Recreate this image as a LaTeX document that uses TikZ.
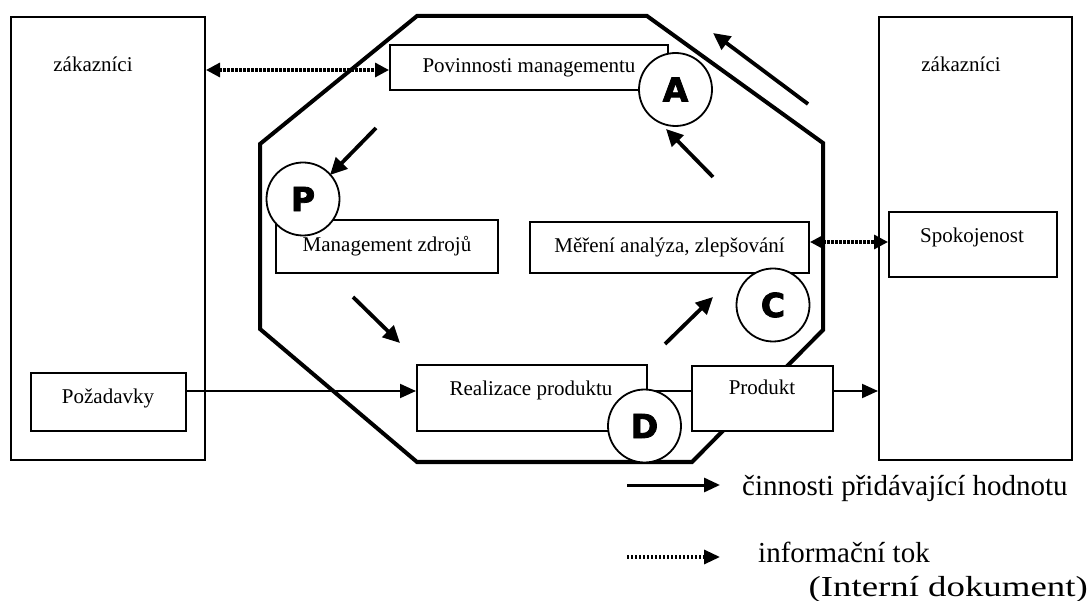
\documentclass[tikz,border=0pt]{standalone}
\usepackage{fontspec}
\setmainfont{Liberation Serif}
\setsansfont{DejaVu Sans}
\newfontfamily\heavyfont{DejaVu Sans}[FakeBold=2.5]
\newfontfamily\widefont{Liberation Serif}[FakeStretch=1.27]
\usepackage{tikz}
\usetikzlibrary{arrows.meta, positioning, calc}

\begin{document}
\begin{tikzpicture}[x=1pt, y=-1pt,
    box/.style={rectangle, draw=black, line width=2pt, fill=white, inner sep=0pt, font=\fontsize{21}{25}\selectfont},
    txt/.style={inner sep=0pt, font=\fontsize{21}{25}\selectfont},
    phase/.style={circle, draw=black, line width=1.8pt, fill=white, minimum size=73pt, inner sep=0pt, font=\heavyfont\bfseries\fontsize{33}{33}\selectfont},
    flow/.style={line width=3.8pt, -{Triangle[length=17pt,width=16pt]}},
    link/.style={line width=2pt},
    info/.style={line width=3.2pt, dash pattern=on 2.4pt off 1.6pt},
    legtxt/.style={inner sep=0pt, font=\fontsize{29}{34}\selectfont}
]
\useasboundingbox (0,0) rectangle (1090,601);

% Customers
\node[box, minimum width=194pt, minimum height=443pt] (custL) at (108,238.5) {};
\node[txt, anchor=base] (custLt) at (93,72) {zákazníci};
\node[box, minimum width=193pt, minimum height=443pt] (custR) at (975.5,238.5) {};
\node[txt, anchor=base] (custRt) at (961,72) {zákazníci};

% Process octagon
\draw[line width=4pt, line join=miter] (417,16) -- (647,16) -- (823,143) -- (823,330) -- (692,462) -- (417,462) -- (260,329) -- (260,144) -- cycle;

% Process boxes
\node[box, minimum width=278pt, minimum height=45pt] (povin) at (529,67.5) {Povinnosti managementu};
\node[box, minimum width=222pt, minimum height=53pt] (zdroje) at (387,246.5) {Management zdrojů};
\node[box, minimum width=279pt, minimum height=51pt] (mereni) at (669.5,247.5) {Měření analýza, zlepšování};
\node[box, minimum width=230pt, minimum height=66pt] (realiz) at (532,398) {};
\node[txt, anchor=base] (realizT) at (531,396) {Realizace produktu};
\node[box, minimum width=141pt, minimum height=65pt] (produkt) at (762.5,398.5) {};
\node[txt, anchor=base] (produktT) at (762,395) {Produkt};
\node[box, minimum width=155pt, minimum height=58pt] (pozad) at (108.5,402) {};
\node[txt, anchor=base] (pozadT) at (108,404) {Požadavky};
\node[box, minimum width=168pt, minimum height=65pt] (spokoj) at (973,244.5) {};
\node[txt, anchor=base] (spokojT) at (972,243) {Spokojenost};

% Product flow
\coordinate (flowy) at (0,391);
\draw[link, -{Triangle[length=16pt,width=14pt]}] (pozad.east |- flowy) -- (realiz.west |- flowy);
\draw[link] (realiz.east |- flowy) -- (produkt.west |- flowy);
\draw[link, -{Triangle[length=16pt,width=14pt]}] (produkt.east |- flowy) -- (custR.west |- flowy);

% Information flow
\draw[info, {Triangle[length=14pt,width=14pt]}-{Triangle[length=14pt,width=14pt]}] (custL.east |- 0,70) -- (povin.west |- 0,70);
\draw[info, {Triangle[length=14pt,width=14pt]}-{Triangle[length=14pt,width=14pt]}] (mereni.east |- 0,242) -- (spokoj.west |- 0,242);

% Cycle arrows
\coordinate (inTail) at (808,104);  \coordinate (inTip) at (713,33);
\coordinate (aTail) at (713,177);   \coordinate (aTip) at (666,129);
\coordinate (pTail) at (376,128);   \coordinate (pTip) at (330,175);
\coordinate (dTail) at (353,297);   \coordinate (dTip) at (400,343);
\coordinate (cTail) at (665,344);   \coordinate (cTip) at (713,297);
\draw[flow] (inTail) -- (inTip);
\draw[flow] (aTail) -- (aTip);
\draw[flow] (pTail) -- (pTip);
\draw[flow] (dTail) -- (dTip);
\draw[flow] (cTail) -- (cTip);

% PDCA circles
\node[phase] (A) at (675.5,89.5) {A};
\node[phase] (P) at (303,199) {P};
\node[phase] (C) at (773,305) {C};
\node[phase] (D) at (644.5,426) {D};

% Legend
\coordinate (lgA1) at (627,485); \coordinate (lgA2) at (720,485);
\draw[line width=3pt, -{Triangle[length=16pt,width=14pt]}] (lgA1) -- (lgA2);
\node[legtxt, anchor=base west] (lgAt) at (742,495) {činnosti přidávající hodnotu};
\coordinate (lgB1) at (627,557); \coordinate (lgB2) at (720,557);
\draw[info, -{Triangle[length=16pt,width=14pt]}] (lgB1) -- (lgB2);
\node[legtxt, anchor=base west] (lgBt) at (758,562) {informační tok};
\node[legtxt, anchor=base east, font=\widefont\fontsize{29}{34}\selectfont] (lgCt) at (1088,596) {(Interní dokument)};

\end{tikzpicture}
\end{document}
